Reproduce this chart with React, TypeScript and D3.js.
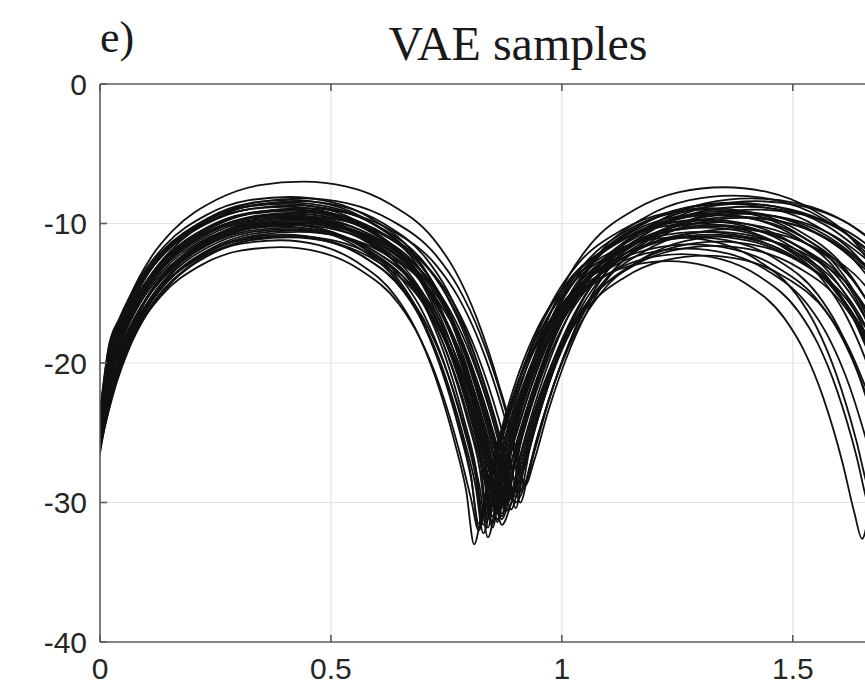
import React from "react";
import * as d3 from "d3";

// ---- axis content ----
const TITLE = "VAE samples";
const PANEL_LABEL = "e)";
const X_TICKS = [0, 0.5, 1, 1.5];
const Y_TICKS = [0, -10, -20, -30, -40];
const X_LIMITS: [number, number] = [0, 1.81];
const Y_LIMITS: [number, number] = [-40, 0];

type Pt = [number, number];

// ---- decoded samples: [x, level] ----
const sample01: Pt[] = [[0,-25.2],[.025,-20.5],[.046,-18.5],[.089,-15.6],[.132,-13.7],[.218,-11.5],[.304,-10.45],[.39,-10.2],[.476,-10.55],[.562,-11.8],[.648,-14.3],[.691,-16.6],[.734,-20],[.777,-24.7],[.803,-28.2],[.82,-31.5],[.837,-29],[.863,-25.5],[.906,-20.8],[.949,-17.4],[.992,-15.1],[1.078,-12.6],[1.164,-11.35],[1.25,-11],[1.336,-11.35],[1.422,-12.6],[1.508,-15.1],[1.551,-17.4],[1.594,-20.8],[1.637,-25.5],[1.663,-29],[1.68,-30.5]];
const sample02: Pt[] = [[0,-26.2],[.033,-21.5],[.054,-19.5],[.096,-16.6],[.138,-14.7],[.222,-12.5],[.306,-11.45],[.39,-11.2],[.474,-11.55],[.558,-12.8],[.642,-15.3],[.684,-17.6],[.726,-21],[.768,-25.7],[.793,-29.2],[.81,-33],[.827,-30.7],[.852,-27.2],[.894,-22.5],[.936,-19.1],[.978,-16.8],[1.062,-14.3],[1.146,-13.05],[1.23,-12.7],[1.314,-13.05],[1.398,-14.3],[1.482,-16.8],[1.524,-19.1],[1.566,-22.5],[1.608,-27.2],[1.633,-30.7],[1.65,-32.6],[1.667,-30.2]];
const sample03: Pt[] = [[0,-24.6],[.026,-19.9],[.048,-17.9],[.092,-15],[.136,-13.1],[.224,-10.9],[.312,-9.85],[.4,-9.6],[.488,-9.95],[.576,-11.2],[.664,-13.7],[.708,-16],[.752,-19.4],[.796,-24.1],[.822,-27.6],[.84,-31.8],[.858,-27.8],[.886,-24.3],[.932,-19.6],[.978,-16.2],[1.024,-13.9],[1.116,-11.4],[1.208,-10.15],[1.3,-9.8],[1.392,-10.15],[1.484,-11.4],[1.576,-13.9],[1.622,-16.2],[1.668,-19.6]];
const sample04: Pt[] = [[0,-25.8],[.035,-21.1],[.056,-19.1],[.099,-16.2],[.142,-14.3],[.228,-12.1],[.314,-11.05],[.4,-10.8],[.486,-11.15],[.572,-12.4],[.658,-14.9],[.701,-17.2],[.744,-20.6],[.787,-25.3],[.813,-28.8],[.83,-32.2],[.848,-29.8],[.874,-26.3],[.918,-21.6],[.962,-18.2],[1.006,-15.9],[1.094,-13.4],[1.182,-12.15],[1.27,-11.8],[1.358,-12.15],[1.446,-13.4],[1.534,-15.9],[1.578,-18.2],[1.622,-21.6],[1.666,-26.3]];
const sample05: Pt[] = [[0,-24],[.028,-19.3],[.05,-17.3],[.095,-14.4],[.14,-12.5],[.23,-10.3],[.32,-9.25],[.41,-9],[.5,-9.35],[.59,-10.6],[.68,-13.1],[.725,-15.4],[.77,-18.8],[.815,-23.5],[.842,-27],[.86,-30.8],[.878,-27],[.906,-23.5],[.952,-18.8],[.998,-15.4],[1.044,-13.1],[1.136,-10.6],[1.228,-9.35],[1.32,-9],[1.412,-9.35],[1.504,-10.6],[1.596,-13.1],[1.642,-15.4],[1.688,-18.8]];
const sample06: Pt[] = [[0,-24.9],[.036,-20.2],[.058,-18.2],[.102,-15.3],[.146,-13.4],[.234,-11.2],[.322,-10.15],[.41,-9.9],[.498,-10.25],[.586,-11.5],[.674,-14],[.718,-16.3],[.762,-19.7],[.806,-24.4],[.832,-27.9],[.85,-31.5],[.869,-28.2],[.898,-24.7],[.946,-20],[.994,-16.6],[1.042,-14.3],[1.138,-11.8],[1.234,-10.55],[1.33,-10.2],[1.426,-10.55],[1.522,-11.8],[1.618,-14.3],[1.666,-16.6]];
const sample07: Pt[] = [[0,-23.5],[.019,-18.8],[.042,-16.8],[.088,-13.9],[.134,-12],[.226,-9.8],[.318,-8.75],[.41,-8.5],[.502,-8.85],[.594,-10.1],[.686,-12.6],[.732,-14.9],[.778,-18.3],[.824,-23],[.852,-26.5],[.87,-30],[.889,-25.4],[.918,-21.9],[.966,-17.2],[1.014,-13.8],[1.062,-11.5],[1.158,-9],[1.254,-7.75],[1.35,-7.4],[1.446,-7.75],[1.542,-9],[1.638,-11.5],[1.686,-13.8]];
const sample08: Pt[] = [[0,-25.5],[.038,-20.8],[.06,-18.8],[.105,-15.9],[.15,-14],[.24,-11.8],[.33,-10.75],[.42,-10.5],[.51,-10.85],[.6,-12.1],[.69,-14.6],[.735,-16.9],[.78,-20.3],[.825,-25],[.852,-28.5],[.87,-31],[.888,-28.6],[.916,-25.1],[.962,-20.4],[1.008,-17],[1.054,-14.7],[1.146,-12.2],[1.238,-10.95],[1.33,-10.6],[1.422,-10.95],[1.514,-12.2],[1.606,-14.7],[1.652,-17],[1.698,-20.4]];
const sample09: Pt[] = [[0,-24.3],[.029,-19.6],[.052,-17.6],[.098,-14.7],[.144,-12.8],[.236,-10.6],[.328,-9.55],[.42,-9.3],[.512,-9.65],[.604,-10.9],[.696,-13.4],[.742,-15.7],[.788,-19.1],[.834,-23.8],[.862,-27.3],[.88,-30.2],[.899,-26.6],[.928,-23.1],[.976,-18.4],[1.024,-15],[1.072,-12.7],[1.168,-10.2],[1.264,-8.95],[1.36,-8.6],[1.456,-8.95],[1.552,-10.2],[1.648,-12.7],[1.696,-15]];
const sample10: Pt[] = [[0,-23.3],[.041,-17.3],[.064,-15.3],[.111,-12.4],[.158,-10.5],[.252,-8.3],[.346,-7.25],[.44,-7],[.534,-7.35],[.628,-8.6],[.722,-11.1],[.769,-13.4],[.816,-16.8],[.863,-21.5],[.891,-25],[.91,-29.2],[.93,-26.2],[.96,-22.7],[1.01,-18],[1.06,-14.6],[1.11,-12.3],[1.21,-9.8],[1.31,-8.55],[1.41,-8.2],[1.51,-8.55],[1.61,-9.8],[1.71,-12.3]];
const sample11: Pt[] = [[0,-23.4],[.032,-18.5],[.056,-16.5],[.104,-13.6],[.152,-11.7],[.248,-9.5],[.344,-8.45],[.44,-8.2],[.536,-8.55],[.632,-9.8],[.728,-12.3],[.776,-14.6],[.824,-18],[.872,-22.7],[.901,-26.2],[.92,-28.8],[.94,-27],[.97,-23.5],[1.02,-18.8],[1.07,-15.4],[1.12,-13.1],[1.22,-10.6],[1.32,-9.35],[1.42,-9],[1.52,-9.35],[1.62,-10.6],[1.72,-13.1]];
const sample12: Pt[] = [[0,-26.5],[.025,-22],[.046,-20],[.089,-17.1],[.132,-15.2],[.218,-13],[.304,-11.95],[.39,-11.7],[.476,-12.05],[.562,-13.3],[.648,-15.8],[.691,-18.1],[.734,-21.5],[.777,-26.2],[.803,-29.7],[.82,-32],[.838,-29.5],[.866,-26],[.912,-21.3],[.958,-17.9],[1.004,-15.6],[1.096,-13.1],[1.188,-11.85],[1.28,-11.5],[1.372,-11.85],[1.464,-13.1],[1.556,-15.6],[1.602,-17.9],[1.648,-21.3],[1.694,-26]];
const sample13: Pt[] = [[0,-24.4],[.035,-19.7],[.056,-17.7],[.099,-14.8],[.142,-12.9],[.228,-10.7],[.314,-9.65],[.4,-9.4],[.486,-9.75],[.572,-11],[.658,-13.5],[.701,-15.8],[.744,-19.2],[.787,-23.9],[.813,-27.4],[.83,-31],[.848,-28],[.876,-24.5],[.922,-19.8],[.968,-16.4],[1.014,-14.1],[1.106,-11.6],[1.198,-10.35],[1.29,-10],[1.382,-10.35],[1.474,-11.6],[1.566,-14.1],[1.612,-16.4],[1.658,-19.8],[1.704,-24.5]];
const sample14: Pt[] = [[0,-25.9],[.026,-21.2],[.048,-19.2],[.092,-16.3],[.136,-14.4],[.224,-12.2],[.312,-11.15],[.4,-10.9],[.488,-11.25],[.576,-12.5],[.664,-15],[.708,-17.3],[.752,-20.7],[.796,-25.4],[.822,-28.9],[.84,-32.5],[.857,-30.2],[.882,-26.7],[.924,-22],[.966,-18.6],[1.008,-16.3],[1.092,-13.8],[1.176,-12.55],[1.26,-12.2],[1.344,-12.55],[1.428,-13.8],[1.512,-16.3],[1.554,-18.6],[1.596,-22],[1.638,-26.7],[1.663,-30.2],[1.68,-31.5]];
const sample15: Pt[] = [[0,-23.8],[.018,-19.1],[.04,-17.1],[.085,-14.2],[.13,-12.3],[.22,-10.1],[.31,-9.05],[.4,-8.8],[.49,-9.15],[.58,-10.4],[.67,-12.9],[.715,-15.2],[.76,-18.6],[.805,-23.3],[.832,-26.8],[.85,-30.6],[.869,-27.4],[.898,-23.9],[.946,-19.2],[.994,-15.8],[1.042,-13.5],[1.138,-11],[1.234,-9.75],[1.33,-9.4],[1.426,-9.75],[1.522,-11],[1.618,-13.5],[1.666,-15.8]];
const sample16: Pt[] = [[0,-25.3],[.028,-20.6],[.05,-18.6],[.095,-15.7],[.14,-13.8],[.23,-11.6],[.32,-10.55],[.41,-10.3],[.5,-10.65],[.59,-11.9],[.68,-14.4],[.725,-16.7],[.77,-20.1],[.815,-24.8],[.842,-28.3],[.86,-31.2],[.878,-28.8],[.906,-25.3],[.952,-20.6],[.998,-17.2],[1.044,-14.9],[1.136,-12.4],[1.228,-11.15],[1.32,-10.8],[1.412,-11.15],[1.504,-12.4],[1.596,-14.9],[1.642,-17.2],[1.688,-20.6]];
const sample17: Pt[] = [[0,-24.7],[.038,-20],[.06,-18],[.105,-15.1],[.15,-13.2],[.24,-11],[.33,-9.95],[.42,-9.7],[.51,-10.05],[.6,-11.3],[.69,-13.8],[.735,-16.1],[.78,-19.5],[.825,-24.2],[.852,-27.7],[.87,-30.4],[.89,-27.2],[.92,-23.7],[.97,-19],[1.02,-15.6],[1.07,-13.3],[1.17,-10.8],[1.27,-9.55],[1.37,-9.2],[1.47,-9.55],[1.57,-10.8],[1.67,-13.3]];
const sample18: Pt[] = [[0,-25.1],[.029,-20.4],[.052,-18.4],[.098,-15.5],[.144,-13.6],[.236,-11.4],[.328,-10.35],[.42,-10.1],[.512,-10.45],[.604,-11.7],[.696,-14.2],[.742,-16.5],[.788,-19.9],[.834,-24.6],[.862,-28.1],[.88,-30.6],[.898,-29.3],[.926,-25.8],[.972,-21.1],[1.018,-17.7],[1.064,-15.4],[1.156,-12.9],[1.248,-11.65],[1.34,-11.3],[1.432,-11.65],[1.524,-12.9],[1.616,-15.4],[1.662,-17.7]];
const sample19: Pt[] = [[0,-23.7],[.021,-19],[.044,-17],[.091,-14.1],[.138,-12.2],[.232,-10],[.326,-8.95],[.42,-8.7],[.514,-9.05],[.608,-10.3],[.702,-12.8],[.749,-15.1],[.796,-18.5],[.843,-23.2],[.871,-26.7],[.89,-29.8],[.909,-26],[.938,-22.5],[.986,-17.8],[1.034,-14.4],[1.082,-12.1],[1.178,-9.6],[1.274,-8.35],[1.37,-8],[1.466,-8.35],[1.562,-9.6],[1.658,-12.1],[1.706,-14.4]];
const sample20: Pt[] = [[0,-25],[.039,-20.3],[.062,-18.3],[.108,-15.4],[.154,-13.5],[.246,-11.3],[.338,-10.25],[.43,-10],[.522,-10.35],[.614,-11.6],[.706,-14.1],[.752,-16.4],[.798,-19.8],[.844,-24.5],[.872,-28],[.89,-30.5],[.909,-28.4],[.938,-24.9],[.986,-20.2],[1.034,-16.8],[1.082,-14.5],[1.178,-12],[1.274,-10.75],[1.37,-10.4],[1.466,-10.75],[1.562,-12],[1.658,-14.5],[1.706,-16.8]];
const sample21: Pt[] = [[0,-24.2],[.031,-19.5],[.054,-17.5],[.101,-14.6],[.148,-12.7],[.242,-10.5],[.336,-9.45],[.43,-9.2],[.524,-9.55],[.618,-10.8],[.712,-13.3],[.759,-15.6],[.806,-19],[.853,-23.7],[.881,-27.2],[.9,-30.4],[.92,-26.8],[.95,-23.3],[1,-18.6],[1.05,-15.2],[1.1,-12.9],[1.2,-10.4],[1.3,-9.15],[1.4,-8.8],[1.5,-9.15],[1.6,-10.4],[1.7,-12.9]];
const sample22: Pt[] = [[0,-25.6],[.031,-20.9],[.054,-18.9],[.101,-16],[.148,-14.1],[.242,-11.9],[.336,-10.85],[.43,-10.6],[.524,-10.95],[.618,-12.2],[.712,-14.7],[.759,-17],[.806,-20.4],[.853,-25.1],[.881,-28.6],[.9,-30],[.918,-28.9],[.946,-25.4],[.992,-20.7],[1.038,-17.3],[1.084,-15],[1.176,-12.5],[1.268,-11.25],[1.36,-10.9],[1.452,-11.25],[1.544,-12.5],[1.636,-15],[1.682,-17.3]];
const sample23: Pt[] = [[0,-24.5],[.041,-19.8],[.064,-17.8],[.111,-14.9],[.158,-13],[.252,-10.8],[.346,-9.75],[.44,-9.5],[.534,-9.85],[.628,-11.1],[.722,-13.6],[.769,-15.9],[.816,-19.3],[.863,-24],[.891,-27.5],[.91,-30],[.929,-27.6],[.958,-24.1],[1.006,-19.4],[1.054,-16],[1.102,-13.7],[1.198,-11.2],[1.294,-9.95],[1.39,-9.6],[1.486,-9.95],[1.582,-11.2],[1.678,-13.7]];
const sample24: Pt[] = [[0,-23.9],[.032,-19.2],[.056,-17.2],[.104,-14.3],[.152,-12.4],[.248,-10.2],[.344,-9.15],[.44,-8.9],[.536,-9.25],[.632,-10.5],[.728,-13],[.776,-15.3],[.824,-18.7],[.872,-23.4],[.901,-26.9],[.92,-28.6],[.94,-26.4],[.97,-22.9],[1.02,-18.2],[1.07,-14.8],[1.12,-12.5],[1.22,-10],[1.32,-8.75],[1.42,-8.4],[1.52,-8.75],[1.62,-10],[1.72,-12.5]];
const sample25: Pt[] = [[0,-23.6],[.036,-18.6],[.058,-16.6],[.102,-13.7],[.146,-11.8],[.234,-9.6],[.322,-8.55],[.41,-8.3],[.498,-8.65],[.586,-9.9],[.674,-12.4],[.718,-14.7],[.762,-18.1],[.806,-22.8],[.832,-26.3],[.85,-31],[.868,-27.7],[.896,-24.2],[.942,-19.5],[.988,-16.1],[1.034,-13.8],[1.126,-11.3],[1.218,-10.05],[1.31,-9.7],[1.402,-10.05],[1.494,-11.3],[1.586,-13.8],[1.632,-16.1],[1.678,-19.5]];
const sample26: Pt[] = [[0,-26],[.019,-21.3],[.042,-19.3],[.088,-16.4],[.134,-14.5],[.226,-12.3],[.318,-11.25],[.41,-11],[.502,-11.35],[.594,-12.6],[.686,-15.1],[.732,-17.4],[.778,-20.8],[.824,-25.5],[.852,-29],[.87,-31.6],[.888,-30.3],[.914,-26.8],[.958,-22.1],[1.002,-18.7],[1.046,-16.4],[1.134,-13.9],[1.222,-12.65],[1.31,-12.3],[1.398,-12.65],[1.486,-13.9],[1.574,-16.4],[1.618,-18.7],[1.662,-22.1]];
const sample27: Pt[] = [[0,-24.1],[.028,-19.4],[.05,-17.4],[.095,-14.5],[.14,-12.6],[.23,-10.4],[.32,-9.35],[.41,-9.1],[.5,-9.45],[.59,-10.7],[.68,-13.2],[.725,-15.5],[.77,-18.9],[.815,-23.6],[.842,-27.1],[.86,-31.4],[.879,-27.9],[.908,-24.4],[.956,-19.7],[1.004,-16.3],[1.052,-14],[1.148,-11.5],[1.244,-10.25],[1.34,-9.9],[1.436,-10.25],[1.532,-11.5],[1.628,-14],[1.676,-16.3]];
const sample28: Pt[] = [[0,-24.8],[.038,-20.1],[.06,-18.1],[.105,-15.2],[.15,-13.3],[.24,-11.1],[.33,-10.05],[.42,-9.8],[.51,-10.15],[.6,-11.4],[.69,-13.9],[.735,-16.2],[.78,-19.6],[.825,-24.3],[.852,-27.8],[.87,-30.2],[.888,-28.1],[.916,-24.6],[.962,-19.9],[1.008,-16.5],[1.054,-14.2],[1.146,-11.7],[1.238,-10.45],[1.33,-10.1],[1.422,-10.45],[1.514,-11.7],[1.606,-14.2],[1.652,-16.5],[1.698,-19.9]];
const sample29: Pt[] = [[0,-24.6],[.021,-19.9],[.044,-17.9],[.091,-15],[.138,-13.1],[.232,-10.9],[.326,-9.85],[.42,-9.6],[.514,-9.95],[.608,-11.2],[.702,-13.7],[.749,-16],[.796,-19.4],[.843,-24.1],[.871,-27.6],[.89,-29.4],[.91,-27.3],[.94,-23.8],[.99,-19.1],[1.04,-15.7],[1.09,-13.4],[1.19,-10.9],[1.29,-9.65],[1.39,-9.3],[1.49,-9.65],[1.59,-10.9],[1.69,-13.4]];
const sample30: Pt[] = [[0,-23.6],[.026,-18.9],[.048,-16.9],[.092,-14],[.136,-12.1],[.224,-9.9],[.312,-8.85],[.4,-8.6],[.488,-8.95],[.576,-10.2],[.664,-12.7],[.708,-15],[.752,-18.4],[.796,-23.1],[.822,-26.6],[.84,-31.2],[.859,-26.9],[.888,-23.4],[.936,-18.7],[.984,-15.3],[1.032,-13],[1.128,-10.5],[1.224,-9.25],[1.32,-8.9],[1.416,-9.25],[1.512,-10.5],[1.608,-13],[1.656,-15.3],[1.704,-18.7]];
const sample31: Pt[] = [[0,-25.4],[.036,-20.7],[.058,-18.7],[.102,-15.8],[.146,-13.9],[.234,-11.7],[.322,-10.65],[.41,-10.4],[.498,-10.75],[.586,-12],[.674,-14.5],[.718,-16.8],[.762,-20.2],[.806,-24.9],[.832,-28.4],[.85,-31.8],[.868,-28.3],[.896,-24.8],[.942,-20.1],[.988,-16.7],[1.034,-14.4],[1.126,-11.9],[1.218,-10.65],[1.31,-10.3],[1.402,-10.65],[1.494,-11.9],[1.586,-14.4],[1.632,-16.7],[1.678,-20.1]];
const sample32: Pt[] = [[0,-24],[.029,-19.3],[.052,-17.3],[.098,-14.4],[.144,-12.5],[.236,-10.3],[.328,-9.25],[.42,-9],[.512,-9.35],[.604,-10.6],[.696,-13.1],[.742,-15.4],[.788,-18.8],[.834,-23.5],[.862,-27],[.88,-30],[.899,-27.1],[.928,-23.6],[.976,-18.9],[1.024,-15.5],[1.072,-13.2],[1.168,-10.7],[1.264,-9.45],[1.36,-9.1],[1.456,-9.45],[1.552,-10.7],[1.648,-13.2],[1.696,-15.5]];
const sample33: Pt[] = [[0,-24.5],[.018,-19.8],[.04,-17.8],[.085,-14.9],[.13,-13],[.22,-10.8],[.31,-9.75],[.4,-9.5],[.49,-9.85],[.58,-11.1],[.67,-13.6],[.715,-15.9],[.76,-19.3],[.805,-24],[.832,-27.5],[.85,-31],[.868,-29],[.894,-25.5],[.938,-20.8],[.982,-17.4],[1.026,-15.1],[1.114,-12.6],[1.202,-11.35],[1.29,-11],[1.378,-11.35],[1.466,-12.6],[1.554,-15.1],[1.598,-17.4],[1.642,-20.8],[1.686,-25.5]];
const sample34: Pt[] = [[0,-23.4],[.039,-18.7],[.062,-16.7],[.108,-13.8],[.154,-11.9],[.246,-9.7],[.338,-8.65],[.43,-8.4],[.522,-8.75],[.614,-10],[.706,-12.5],[.752,-14.8],[.798,-18.2],[.844,-22.9],[.872,-26.4],[.89,-29.5],[.91,-26.6],[.94,-23.1],[.99,-18.4],[1.04,-15],[1.09,-12.7],[1.19,-10.2],[1.29,-8.95],[1.39,-8.6],[1.49,-8.95],[1.59,-10.2],[1.69,-12.7]];
const sample35: Pt[] = [[0,-25],[.025,-20.3],[.046,-18.3],[.089,-15.4],[.132,-13.5],[.218,-11.3],[.304,-10.25],[.39,-10],[.476,-10.35],[.562,-11.6],[.648,-14.1],[.691,-16.4],[.734,-19.8],[.777,-24.5],[.803,-28],[.82,-31.8],[.839,-28.6],[.868,-25.1],[.916,-20.4],[.964,-17],[1.012,-14.7],[1.108,-12.2],[1.204,-10.95],[1.3,-10.6],[1.396,-10.95],[1.492,-12.2],[1.588,-14.7],[1.636,-17],[1.684,-20.4]];
const sample36: Pt[] = [[0,-25.9],[.038,-21.2],[.06,-19.2],[.105,-16.3],[.15,-14.4],[.24,-12.2],[.33,-11.15],[.42,-10.9],[.51,-11.25],[.6,-12.5],[.69,-15],[.735,-17.3],[.78,-20.7],[.825,-25.4],[.852,-28.9],[.87,-31.2],[.888,-29.6],[.916,-26.1],[.962,-21.4],[1.008,-18],[1.054,-15.7],[1.146,-13.2],[1.238,-11.95],[1.33,-11.6],[1.422,-11.95],[1.514,-13.2],[1.606,-15.7],[1.652,-18],[1.698,-21.4]];
const sample37: Pt[] = [[0,-24.9],[.031,-20.2],[.054,-18.2],[.101,-15.3],[.148,-13.4],[.242,-11.2],[.336,-10.15],[.43,-9.9],[.524,-10.25],[.618,-11.5],[.712,-14],[.759,-16.3],[.806,-19.7],[.853,-24.4],[.881,-27.9],[.9,-29.6],[.919,-27.5],[.948,-24],[.996,-19.3],[1.044,-15.9],[1.092,-13.6],[1.188,-11.1],[1.284,-9.85],[1.38,-9.5],[1.476,-9.85],[1.572,-11.1],[1.668,-13.6]];
const sample38: Pt[] = [[0,-24.4],[.019,-19.7],[.042,-17.7],[.088,-14.8],[.134,-12.9],[.226,-10.7],[.318,-9.65],[.41,-9.4],[.502,-9.75],[.594,-11],[.686,-13.5],[.732,-15.8],[.778,-19.2],[.824,-23.9],[.852,-27.4],[.87,-30.8],[.89,-26.5],[.92,-23],[.97,-18.3],[1.02,-14.9],[1.07,-12.6],[1.17,-10.1],[1.27,-8.85],[1.37,-8.5],[1.47,-8.85],[1.57,-10.1],[1.67,-12.6]];
const sample39: Pt[] = [[0,-25.1],[.035,-20.4],[.056,-18.4],[.099,-15.5],[.142,-13.6],[.228,-11.4],[.314,-10.35],[.4,-10.1],[.486,-10.45],[.572,-11.7],[.658,-14.2],[.701,-16.5],[.744,-19.9],[.787,-24.6],[.813,-28.1],[.83,-31.6],[.849,-28.9],[.878,-25.4],[.926,-20.7],[.974,-17.3],[1.022,-15],[1.118,-12.5],[1.214,-11.25],[1.31,-10.9],[1.406,-11.25],[1.502,-12.5],[1.598,-15],[1.646,-17.3],[1.694,-20.7]];
const sample40: Pt[] = [[0,-23.4],[.028,-18.4],[.05,-16.4],[.095,-13.5],[.14,-11.6],[.23,-9.4],[.32,-8.35],[.41,-8.1],[.5,-8.45],[.59,-9.7],[.68,-12.2],[.725,-14.5],[.77,-17.9],[.815,-22.6],[.842,-26.1],[.86,-30.4],[.878,-27.3],[.906,-23.8],[.952,-19.1],[.998,-15.7],[1.044,-13.4],[1.136,-10.9],[1.228,-9.65],[1.32,-9.3],[1.412,-9.65],[1.504,-10.9],[1.596,-13.4],[1.642,-15.7],[1.688,-19.1]];

const SAMPLES: Pt[][] = [
  sample01, sample02, sample03, sample04, sample05, sample06, sample07, sample08, sample09, sample10,
  sample11, sample12, sample13, sample14, sample15, sample16, sample17, sample18, sample19, sample20,
  sample21, sample22, sample23, sample24, sample25, sample26, sample27, sample28, sample29, sample30,
  sample31, sample32, sample33, sample34, sample35, sample36, sample37, sample38, sample39, sample40,
];

const W = 865;
const H = 693;
const PLOT = { left: 100, top: 84, bottom: 642, right: 936 };

export default function App() {
  const x = d3.scaleLinear().domain(X_LIMITS).range([PLOT.left, PLOT.right]);
  const y = d3.scaleLinear().domain(Y_LIMITS).range([PLOT.bottom, PLOT.top]);
  const line = d3
    .line<Pt>()
    .x((d) => x(d[0]))
    .y((d) => y(d[1]))
    .curve(d3.curveMonotoneX);

  const axisColor = "#5a5a5a";
  const gridColor = "#e3e3e3";
  const tickLen = 7;
  const labelFont = "'Liberation Sans', Arial, Helvetica, sans-serif";
  const serif = "'Liberation Serif', 'Times New Roman', serif";

  return (
    <svg
      width={W}
      height={H}
      viewBox={`0 0 ${W} ${H}`}
      style={{ position: "absolute", left: 0, top: 0, background: "#fff" }}
    >
      <defs>
        <clipPath id="plot-area">
          <rect x={PLOT.left} y={PLOT.top} width={PLOT.right - PLOT.left} height={PLOT.bottom - PLOT.top} />
        </clipPath>
      </defs>
      <rect x={0} y={0} width={W} height={H} fill="#fff" />

      {/* grid */}
      <g stroke={gridColor} strokeWidth={1.2}>
        {X_TICKS.filter((t) => t > X_LIMITS[0]).map((t) => (
          <line key={`gx${t}`} x1={x(t)} x2={x(t)} y1={PLOT.top} y2={PLOT.bottom} />
        ))}
        {Y_TICKS.filter((t) => t > Y_LIMITS[0] && t < Y_LIMITS[1]).map((t) => (
          <line key={`gy${t}`} x1={PLOT.left} x2={PLOT.right} y1={y(t)} y2={y(t)} />
        ))}
      </g>

      {/* sample curves */}
      <g clipPath="url(#plot-area)" fill="none" stroke="#111" strokeWidth={1.8} strokeLinejoin="round">
        {SAMPLES.map((s, i) => (
          <path key={i} d={line(s) ?? ""} />
        ))}
      </g>

      {/* box and ticks */}
      <g stroke={axisColor} strokeWidth={1.6} fill="none">
        <line x1={PLOT.left} x2={PLOT.left} y1={PLOT.top} y2={PLOT.bottom} />
        <line x1={PLOT.left} x2={PLOT.right} y1={PLOT.bottom} y2={PLOT.bottom} />
        <line x1={PLOT.left} x2={PLOT.right} y1={PLOT.top} y2={PLOT.top} />
        <line x1={PLOT.right} x2={PLOT.right} y1={PLOT.top} y2={PLOT.bottom} />
        {X_TICKS.map((t) => (
          <g key={`tx${t}`}>
            <line x1={x(t)} x2={x(t)} y1={PLOT.bottom} y2={PLOT.bottom - tickLen} />
            <line x1={x(t)} x2={x(t)} y1={PLOT.top} y2={PLOT.top + tickLen} />
          </g>
        ))}
        {Y_TICKS.map((t) => (
          <line key={`ty${t}`} x1={PLOT.left} x2={PLOT.left + tickLen} y1={y(t)} y2={y(t)} />
        ))}
      </g>

      {/* tick labels */}
      <g fontFamily={labelFont} fontSize={30} fill="#262626">
        {X_TICKS.map((t) => (
          <text key={`lx${t}`} x={x(t)} y={PLOT.bottom + 37} textAnchor="middle">
            {String(t)}
          </text>
        ))}
        {Y_TICKS.map((t) => (
          <text key={`ly${t}`} x={PLOT.left - 13} y={y(t) + 10.5} textAnchor="end">
            {String(t)}
          </text>
        ))}
      </g>

      {/* titles */}
      <text x={PLOT.left} y={52} fontFamily={serif} fontSize={44} fill="#1a1a1a">
        {PANEL_LABEL}
      </text>
      <text x={(PLOT.left + PLOT.right) / 2} y={60} textAnchor="middle" fontFamily={serif} fontSize={48} fill="#1a1a1a">
        {TITLE}
      </text>
    </svg>
  );
}
